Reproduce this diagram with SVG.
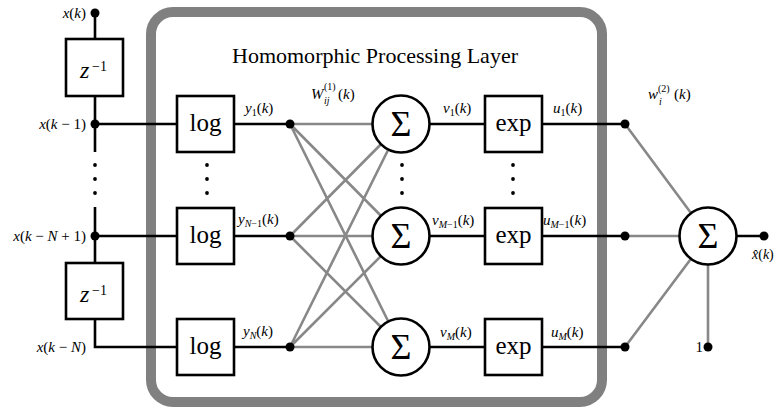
<svg xmlns="http://www.w3.org/2000/svg" width="775" height="410" viewBox="0 0 775 410">
<style>
.blk{stroke:#000;stroke-width:2.6;fill:none}
.gry{stroke:#888;stroke-width:2.6;fill:none}
.box{fill:#fff;stroke:#000;stroke-width:2.6}
.dot{fill:#000}
text{font-family:"Liberation Serif",serif;fill:#000}
.lbl{font-size:15px}
.it{font-style:italic}
.op{font-size:25px;text-anchor:middle}
.sig{font-size:36px;text-anchor:middle}
</style>
<rect width="775" height="410" fill="#fff"/>
<g id="layer-frame">
<rect x="151" y="12" width="451" height="390" rx="22" ry="22" fill="none" stroke="#808080" stroke-width="10"/>
<text x="375" y="63" font-size="21" text-anchor="middle" textLength="286" lengthAdjust="spacingAndGlyphs">Homomorphic Processing Layer</text>
</g>
<g id="connectors">
<path class="blk" d="M95,13V39M95,96V152M95,207V263M95,319V347H177M95,124H177M95,236H177"/>
<path class="blk" d="M234,124H290M234,236H290M234,347H290"/>
<path class="blk" d="M429,124H485M429,236H485M429,347H485"/>
<path class="blk" d="M542,124H625M542,236H625M542,347H625M737,236H764"/>
<path class="gry" d="M290,124L401,124M290,124L401,236M290,124L401,347M290,236L401,124M290,236L401,236M290,236L401,347M290,347L401,124M290,347L401,236M290,347L401,347"/>
<path class="gry" d="M625,124L708,236M625,236L708,236M625,347L708,236M708,236V347"/>
</g>
<g id="dots">
<circle class="dot" cx="95" cy="13" r="4.5"/>
<circle class="dot" cx="95" cy="124" r="4.5"/>
<circle class="dot" cx="95" cy="236" r="4.5"/>
<circle class="dot" cx="290" cy="124" r="4.5"/>
<circle class="dot" cx="290" cy="236" r="4.5"/>
<circle class="dot" cx="290" cy="347" r="4.5"/>
<circle class="dot" cx="625" cy="124" r="4.5"/>
<circle class="dot" cx="625" cy="236" r="4.5"/>
<circle class="dot" cx="625" cy="347" r="4.5"/>
<circle class="dot" cx="764" cy="236" r="4.5"/>
<circle class="dot" cx="708" cy="347" r="4.5"/>
</g>
<g id="ellipses">
<circle class="dot" cx="95" cy="165" r="1.9"/><circle class="dot" cx="95" cy="179" r="1.9"/><circle class="dot" cx="95" cy="193" r="1.9"/>
<circle class="dot" cx="207" cy="165" r="1.9"/><circle class="dot" cx="207" cy="179" r="1.9"/><circle class="dot" cx="207" cy="193" r="1.9"/>
<circle class="dot" cx="402" cy="165" r="1.9"/><circle class="dot" cx="402" cy="179" r="1.9"/><circle class="dot" cx="402" cy="193" r="1.9"/>
<circle class="dot" cx="513" cy="165" r="1.9"/><circle class="dot" cx="513" cy="179" r="1.9"/><circle class="dot" cx="513" cy="193" r="1.9"/>
</g>
<g id="delay1"><rect class="box" x="66" y="39" width="57" height="57"/><text x="80" y="78" font-size="24" class="it">z</text><text x="92" y="71" font-size="14">−1</text></g>
<g id="delay2"><rect class="box" x="66" y="263" width="57" height="56"/><text x="80" y="302" font-size="24" class="it">z</text><text x="92" y="295" font-size="14">−1</text></g>
<g id="log1"><rect class="box" x="177" y="96" width="57" height="56"/><text class="op" x="205.5" y="131">log</text></g>
<g id="log2"><rect class="box" x="177" y="208" width="57" height="56"/><text class="op" x="205.5" y="243">log</text></g>
<g id="log3"><rect class="box" x="177" y="319" width="57" height="56"/><text class="op" x="205.5" y="354">log</text></g>
<g id="sum1"><circle class="box" cx="401" cy="124" r="28.5"/><text class="sig" x="401" y="136">Σ</text></g>
<g id="sum2"><circle class="box" cx="401" cy="236" r="28.5"/><text class="sig" x="401" y="248">Σ</text></g>
<g id="sum3"><circle class="box" cx="401" cy="347" r="28.5"/><text class="sig" x="401" y="359">Σ</text></g>
<g id="exp1"><rect class="box" x="485" y="96" width="57" height="56"/><text class="op" x="513.5" y="131">exp</text></g>
<g id="exp2"><rect class="box" x="485" y="208" width="57" height="56"/><text class="op" x="513.5" y="243">exp</text></g>
<g id="exp3"><rect class="box" x="485" y="319" width="57" height="56"/><text class="op" x="513.5" y="354">exp</text></g>
<g id="sumout"><circle class="box" cx="708" cy="236" r="28.5"/><text class="sig" x="708" y="248">Σ</text></g>
<g id="labels" class="lbl">
<text x="86" y="18" text-anchor="end"><tspan class="it">x</tspan>(<tspan class="it">k</tspan>)</text>
<text x="86" y="129" text-anchor="end"><tspan class="it">x</tspan>(<tspan class="it">k</tspan> − 1)</text>
<text x="86" y="241" text-anchor="end"><tspan class="it">x</tspan>(<tspan class="it">k</tspan> − <tspan class="it">N</tspan> + 1)</text>
<text x="86" y="352" text-anchor="end"><tspan class="it">x</tspan>(<tspan class="it">k</tspan> − <tspan class="it">N</tspan>)</text>
<text x="245" y="113"><tspan class="it">y</tspan><tspan font-size="10" dy="3">1</tspan><tspan dy="-3">(</tspan><tspan class="it">k</tspan>)</text>
<text x="238" y="224"><tspan class="it">y</tspan><tspan font-size="10" dy="3"><tspan class="it">N</tspan>−1</tspan><tspan dy="-3">(</tspan><tspan class="it">k</tspan>)</text>
<text x="243" y="336"><tspan class="it">y</tspan><tspan font-size="10" dy="3" class="it">N</tspan><tspan dy="-3">(</tspan><tspan class="it">k</tspan>)</text>
<text x="443" y="113"><tspan class="it">v</tspan><tspan font-size="10" dy="3">1</tspan><tspan dy="-3">(</tspan><tspan class="it">k</tspan>)</text>
<text x="432" y="225"><tspan class="it">v</tspan><tspan font-size="10" dy="3"><tspan class="it">M</tspan>−1</tspan><tspan dy="-3">(</tspan><tspan class="it">k</tspan>)</text>
<text x="440" y="337"><tspan class="it">v</tspan><tspan font-size="10" dy="3" class="it">M</tspan><tspan dy="-3">(</tspan><tspan class="it">k</tspan>)</text>
<text x="553" y="113"><tspan class="it">u</tspan><tspan font-size="10" dy="3">1</tspan><tspan dy="-3">(</tspan><tspan class="it">k</tspan>)</text>
<text x="543" y="225"><tspan class="it">u</tspan><tspan font-size="10" dy="3"><tspan class="it">M</tspan>−1</tspan><tspan dy="-3">(</tspan><tspan class="it">k</tspan>)</text>
<text x="551" y="337"><tspan class="it">u</tspan><tspan font-size="10" dy="3" class="it">M</tspan><tspan dy="-3">(</tspan><tspan class="it">k</tspan>)</text>
<text x="311" y="99"><tspan class="it">W</tspan><tspan font-size="10" x="324" y="90">(1)</tspan><tspan font-size="10" class="it" x="324" y="104">ij</tspan><tspan x="338" y="99">(</tspan><tspan class="it">k</tspan>)</text>
<text x="648" y="99"><tspan class="it">w</tspan><tspan font-size="10" x="658" y="92">(2)</tspan><tspan font-size="10" class="it" x="659" y="105">i</tspan><tspan x="674" y="99">(</tspan><tspan class="it">k</tspan>)</text>
<text x="752" y="259" font-size="14"><tspan class="it">x̂</tspan>(<tspan class="it">k</tspan>)</text>
<text x="703" y="352" text-anchor="end">1</text>
</g>
</svg>
